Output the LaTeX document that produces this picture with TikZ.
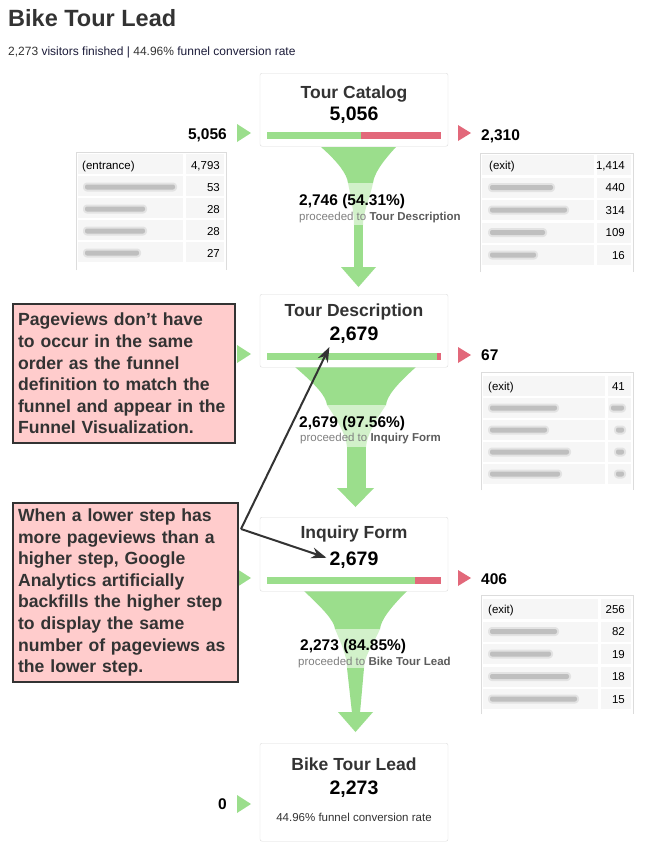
\documentclass[tikz,border=0pt]{standalone}
\usepackage{fontspec}
\setmainfont{Liberation Sans}
\usetikzlibrary{arrows.meta}

\definecolor{fgreen}{RGB}{155,222,140}
\definecolor{flight}{RGB}{210,241,202}
\definecolor{fred}{RGB}{226,104,122}
\definecolor{notefill}{RGB}{255,204,204}
\definecolor{darktext}{RGB}{51,51,51}
\definecolor{celfill}{RGB}{246,246,246}
\definecolor{tabborder}{RGB}{220,220,220}
\definecolor{navytext}{RGB}{28,28,58}

\begin{document}
\begin{tikzpicture}[x=1pt, y=-1pt,
    stepbox/.style={draw=tabborder, fill=white, rounded corners=2pt, minimum width=188pt, inner sep=0pt, anchor=north},
    steptitle/.style={anchor=base, inner sep=0pt, text=darktext, font=\fontsize{17.5}{20}\selectfont\bfseries},
    stepnum/.style={anchor=base, inner sep=0pt, font=\fontsize{19.5}{22}\selectfont\bfseries},
    sidenum/.style={inner sep=0pt, font=\fontsize{15.5}{18}\selectfont\bfseries},
    flowpct/.style={anchor=base west, inner sep=0pt, font=\fontsize{15.5}{18}\selectfont\bfseries},
    flowto/.style={anchor=base west, inner sep=0pt, text=gray, font=\fontsize{11.5}{14}\selectfont},
    celltext/.style={inner sep=0pt, font=\fontsize{11.5}{14}\selectfont},
    cell/.style={fill=celfill},
    blur/.style={fill=gray!50, rounded corners=2pt, preaction={draw=gray!22, line width=4pt, line join=round}},
    tabline/.style={draw=tabborder, line width=0.8pt},
    note/.style={draw=darktext, line width=2.2pt, fill=notefill, anchor=north west, align=left, inner xsep=5pt, text=darktext, font=\fontsize{17.6}{21.6}\selectfont\bfseries},
    callarrow/.style={draw=darktext, line width=2pt, -{Stealth[length=15pt, width=11pt]}}
]
\fill[white] (0,0) rectangle (652,865);
\useasboundingbox (0,0) rectangle (652,865);

% Heading
\node[anchor=base west, inner sep=0pt, text=darktext, font=\fontsize{23.5}{26}\selectfont\bfseries] (title) at (8,26) {Bike Tour Lead};
\node[anchor=base west, inner sep=0pt, text=navytext, font=\fontsize{12}{14}\selectfont] (subtitle) at (8,55)
    {\textcolor{darktext}{2,273} visitors finished | \textcolor{darktext}{44.96\%} funnel conversion rate};

% Funnel 1
\fill[fgreen] (321,147) .. controls (338,162) and (347,174) .. (348,183) -- (373,183) .. controls (374,174) and (382,162) .. (396,147) -- cycle;
\fill[flight] (348,183) .. controls (351,198) and (354,212) .. (354,225) -- (363,225) .. controls (363,212) and (370,198) .. (373,183) -- cycle;
\fill[fgreen] (354,225) rectangle (363,268);
\fill[fgreen] (341,267) -- (376,267) -- (358.5,287) -- cycle;

% Funnel 2
\fill[fgreen] (295,367) .. controls (316,385) and (326,396) .. (327,405) -- (386,405) .. controls (387,396) and (396,385) .. (416,367) -- cycle;
\fill[flight] (327,405) .. controls (337,420) and (346,434) .. (347,447) -- (366,447) .. controls (367,434) and (376,420) .. (386,405) -- cycle;
\fill[fgreen] (347,447) rectangle (366,489);
\fill[fgreen] (337,488) -- (374,488) -- (355.5,507) -- cycle;

% Funnel 3
\fill[fgreen] (304,591) .. controls (322,608) and (334,620) .. (335,629) -- (380,629) .. controls (381,620) and (390,608) .. (407,591) -- cycle;
\fill[flight] (335,629) .. controls (341,643) and (347,656) .. (347,668) -- (364,668) .. controls (364,656) and (374,643) .. (380,629) -- cycle;
\fill[fgreen] (347,668) -- (364,668) -- (360,713) -- (352,713) -- cycle;
\fill[fgreen] (338,712) -- (373,712) -- (355.5,732) -- cycle;

% Funnel labels
\node[flowpct] (pct1) at (299,205) {2,746 (54.31\%)};
\node[flowto] (to1) at (299,220) {proceeded to \textcolor{darktext!80}{\bfseries Tour Description}};
\node[flowpct] (pct2) at (299,427) {2,679 (97.56\%)};
\node[flowto] (to2) at (300,441) {proceeded to \textcolor{darktext!80}{\bfseries Inquiry Form}};
\node[flowpct] (pct3) at (300,650) {2,273 (84.85\%)};
\node[flowto] (to3) at (298,665) {proceeded to \textcolor{darktext!80}{\bfseries Bike Tour Lead}};

% Step boxes
\node[stepbox, minimum height=73pt] (catalog) at (354,73) {};
\node[stepbox, minimum height=73pt] (desc) at (354,294) {};
\node[stepbox, minimum height=74pt] (form) at (354,517) {};
\node[stepbox, minimum height=98pt] (lead) at (354,743) {};

\node[steptitle] (catalogt) at (354,98) {Tour Catalog};
\node[stepnum] (catalogn) at (354,120) {5,056};
\node[steptitle] (desct) at (354,316) {Tour Description};
\node[stepnum] (descnum) at (354,340) {2,679};
\node[steptitle] (formt) at (354,538) {Inquiry Form};
\node[stepnum] (formnum) at (354,565) {2,679};
\node[steptitle] (leadt) at (354,770) {Bike Tour Lead};
\node[stepnum] (leadn) at (354,794) {2,273};
\node[anchor=base, inner sep=0pt, text=darktext, font=\fontsize{11.5}{14}\selectfont] (leadrate) at (354,821) {44.96\% funnel conversion rate};

% Bars
\fill[fgreen] (267,132) rectangle (361,139);
\fill[fred] (361,132) rectangle (441,139);
\fill[fgreen] (267,353) rectangle (437,360);
\fill[fred] (437,353) rectangle (441,360);
\fill[fgreen] (267,577) rectangle (415,584);
\fill[fred] (415,577) rectangle (441,584);

% Entries and exits
\fill[fgreen] (237,124) -- (251,133) -- (237,142) -- cycle;
\fill[fgreen] (237,345) -- (251,354) -- (237,363) -- cycle;
\fill[fgreen] (237,569) -- (251,578) -- (237,587) -- cycle;
\fill[fgreen] (237,795) -- (251,804) -- (237,813) -- cycle;
\fill[fred] (458,125) -- (471,133) -- (458,141) -- cycle;
\fill[fred] (458,347) -- (471,355) -- (458,363) -- cycle;
\fill[fred] (458,570) -- (471,578) -- (458,586) -- cycle;

\node[sidenum, anchor=base east] (incat) at (227,139) {5,056};
\node[sidenum, anchor=base east] (inlead) at (227,809) {0};
\node[sidenum, anchor=base west] (outcat) at (481,140) {2,310};
\node[sidenum, anchor=base west] (outdesc) at (481,360) {67};
\node[sidenum, anchor=base west] (outform) at (481,584) {406};

% Entrance table
\draw[tabline] (76,270) |- (226,152) -- (226,270);
\foreach \i in {0,...,4} {
  \fill[cell] (78,154+22*\i) rectangle (183,174+22*\i);
  \fill[cell] (186,154+22*\i) rectangle (224,174+22*\i);
}
\node[celltext, anchor=base west] (entlab) at (82,169) {(entrance)};
\node[celltext, anchor=base east] (ent0) at (220,169) {4,793};
\foreach \n/\w [count=\i] in {53/96, 28/66, 28/66, 27/60} {
  \node[celltext, anchor=base east] (ent\i) at (220,169+22*\i) {\n};
  \fill[blur] (85,162.5+22*\i) rectangle ++(\w-6,5);
}

% Exit table, Tour Catalog
\draw[tabline] (480,272) |- (633,153) -- (633,272);
\foreach \i in {0,...,4} {
  \fill[cell] (482,155+22.5*\i) rectangle (594,175+22.5*\i);
  \fill[cell] (597,155+22.5*\i) rectangle (631,175+22.5*\i);
}
\node[celltext, anchor=base west] (catex) at (489,169) {(exit)};
\node[celltext, anchor=base east] (catx0) at (625,169) {1,414};
\foreach \n/\w [count=\i] in {440/69, 314/83, 109/61, 16/52} {
  \node[celltext, anchor=base east] (catx\i) at (625,169+22.5*\i) {\n};
  \fill[blur] (490,162.5+22.5*\i) rectangle ++(\w-6,5);
}

% Exit table, Tour Description
\draw[tabline] (481,490) |- (633,372) -- (633,490);
\foreach \i in {0,...,4} {
  \fill[cell] (483,376+22*\i) rectangle (605,396+22*\i);
  \fill[cell] (608,376+22*\i) rectangle (631,396+22*\i);
}
\node[celltext, anchor=base west] (descex) at (488,390) {(exit)};
\node[celltext, anchor=base east] (descx0) at (625,390) {41};
\foreach \w/\v [count=\i] in {73/16, 63/11, 85/11, 76/11} {
  \fill[blur] (490,383.5+22*\i) rectangle ++(\w-6,5);
  \fill[blur] (627-\v,383.5+22*\i) rectangle (624,388.5+22*\i);
}

% Exit table, Inquiry Form
\draw[tabline] (481,714) |- (633,595) -- (633,714);
\foreach \i in {0,...,4} {
  \fill[cell] (483,599+22.5*\i) rectangle (598,619+22.5*\i);
  \fill[cell] (601,599+22.5*\i) rectangle (631,619+22.5*\i);
}
\node[celltext, anchor=base west] (formex) at (488,613) {(exit)};
\node[celltext, anchor=base east] (formx0) at (625,613) {256};
\foreach \n/\w [count=\i] in {82/73, 19/67, 18/85, 15/93} {
  \node[celltext, anchor=base east] (formx\i) at (625,613+22.5*\i) {\n};
  \fill[blur] (490,606.5+22.5*\i) rectangle ++(\w-6,5);
}

% Notes
\node[note, text width=212pt, minimum height=139pt] (ordernote) at (12,303)
    {Pageviews don’t have\\to occur in the same\\order as the funnel\\definition to match the\\funnel and appear in the\\Funnel Visualization.};
\node[note, text width=215pt, minimum height=179pt] (fillnote) at (12,502)
    {When a lower step has\\more pageviews than a\\higher step, Google\\Analytics artificially\\backfills the higher step\\to display the same\\number of pageviews as\\the lower step.};

% Note arrows
\coordinate (fork) at (241,529);
\draw[callarrow] (fork) -- ([yshift=-7pt]descnum.base west);
\draw[callarrow] (fork) -- ([xshift=-3pt,yshift=2pt]formnum.west);

\end{tikzpicture}
\end{document}
